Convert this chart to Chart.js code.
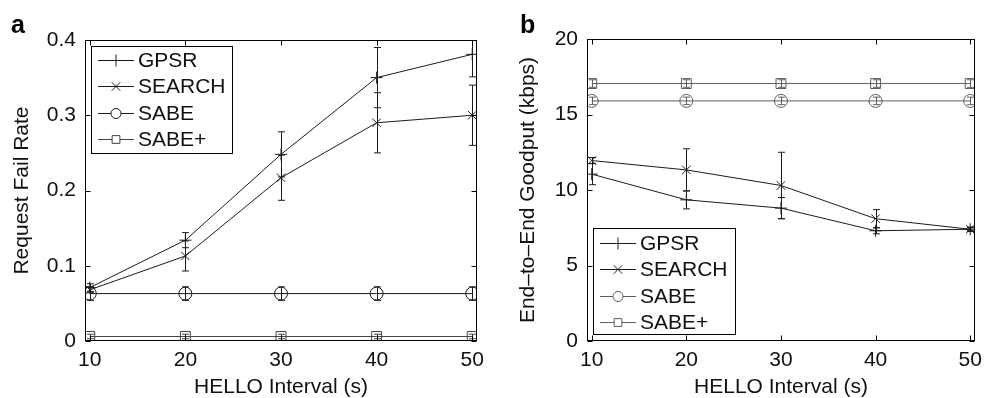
<!DOCTYPE html>
<html>
<head>
<meta charset="utf-8">
<script src="https://cdn.jsdelivr.net/npm/chart.js@4.4.1/dist/chart.umd.min.js"></script>
<style>
  body { margin: 0; background: #fff; }
  #wrap { position: relative; width: 989px; height: 398px; }
  .panel { position: absolute; top: 0; height: 398px; }
  #pa { left: 0; width: 500px; }
  #pb { left: 500px; width: 489px; }
  .tag { position: absolute; top: 12px; font: bold 25px "Liberation Sans", Arial, sans-serif; line-height: 25px; }
</style>
</head>
<body>
<div id="wrap">
  <div class="panel" id="pa"><canvas id="failChart" width="500" height="398"></canvas></div>
  <div class="panel" id="pb"><canvas id="goodputChart" width="489" height="398"></canvas></div>
  <div class="tag" style="left:11px">a</div>
  <div class="tag" style="left:520px">b</div>
</div>
<script>
const hello = [10, 20, 30, 40, 50];
const seriesNames = ['GPSR', 'SEARCH', 'SABE', 'SABE+'];

// panel a: request fail rate
const failGpsr = [0.071, 0.134, 0.248, 0.350, 0.381];
const failGpsrErr = [0.005, 0.010, 0.030, 0.040, 0.030];
const failSearch = [0.068, 0.113, 0.217, 0.290, 0.300];
const failSearchErr = [0.004, 0.020, 0.030, 0.040, 0.040];
const failSabe = [0.063, 0.063, 0.063, 0.063, 0.063];
const failSabeErr = [0.009, 0.009, 0.009, 0.009, 0.009];
const failSabePlus = [0.006, 0.006, 0.006, 0.006, 0.006];
const failSabePlusErr = [0.003, 0.003, 0.003, 0.003, 0.003];
const failTicks = [0, 0.1, 0.2, 0.3, 0.4];

// panel b: end-to-end goodput
const gpGpsr = [11.05, 9.35, 8.8, 7.3, 7.4];
const gpGpsrErr = [0.7, 0.6, 0.7, 0.2, 0.1];
const gpSearch = [11.95, 11.33, 10.3, 8.1, 7.4];
const gpSearchErr = [0.2, 1.4, 2.2, 0.6, 0.15];
const gpSabe = [15.9, 15.9, 15.9, 15.9, 15.9];
const gpSabeErr = [0.25, 0.25, 0.25, 0.25, 0.25];
const gpSabePlus = [17.05, 17.05, 17.05, 17.05, 17.05];
const gpSabePlusErr = [0.25, 0.25, 0.25, 0.25, 0.25];
const gpTicks = [0, 5, 10, 15, 20];

const FONT = '"Liberation Sans", Arial, Helvetica, sans-serif';
const DARK = '#1c1c1c';
const GRAY = '#5e5e5e';
const markers = [
  { style: 'cross', r: 6, lr: 6 },
  { style: 'crossRot', r: 6, lr: 6 },
  { style: 'circle', r: 6.5, lr: 5 },
  { style: 'rect', r: 7, lr: 5.5 }
];

function makeDataset(i, values, errs, color) {
  return {
    label: seriesNames[i],
    data: hello.map((x, j) => ({ x: x, y: values[j] })),
    err: errs,
    borderColor: color,
    borderWidth: 1,
    tension: 0,
    fill: false,
    pointStyle: markers[i].style,
    pointRadius: markers[i].r,
    pointBorderColor: color,
    pointBorderWidth: 1,
    pointBackgroundColor: 'rgba(0,0,0,0)'
  };
}

// vertical error bars with caps, drawn from the chart scales
const errorBars = {
  id: 'errorBars',
  beforeDatasetsDraw(chart) {
    const { ctx, chartArea, scales } = chart;
    ctx.save();
    ctx.beginPath();
    ctx.rect(chartArea.left, chartArea.top, chartArea.right - chartArea.left, chartArea.bottom - chartArea.top);
    ctx.clip();
    ctx.lineWidth = 1;
    chart.data.datasets.forEach(ds => {
      ctx.strokeStyle = ds.borderColor;
      ds.data.forEach((p, j) => {
        const x = Math.round(scales.x.getPixelForValue(p.x)) + 0.5;
        const y1 = scales.y.getPixelForValue(p.y + ds.err[j]);
        const y2 = scales.y.getPixelForValue(p.y - ds.err[j]);
        ctx.beginPath();
        ctx.moveTo(x, y1); ctx.lineTo(x, y2);
        ctx.moveTo(x - 3.5, y1); ctx.lineTo(x + 3.5, y1);
        ctx.moveTo(x - 3.5, y2); ctx.lineTo(x + 3.5, y2);
        ctx.stroke();
      });
    });
    ctx.restore();
  }
};

// matlab style box with inward ticks on all sides
const frame = {
  id: 'frame',
  afterDraw(chart) {
    const { ctx, chartArea: a, scales } = chart;
    const L = Math.round(a.left) + 0.5, R = Math.round(a.right) - 0.5;
    const T = Math.round(a.top) + 0.5, B = Math.round(a.bottom) - 0.5;
    ctx.save();
    ctx.strokeStyle = '#000';
    ctx.lineWidth = 1;
    ctx.strokeRect(L, T, R - L, B - T);
    ctx.beginPath();
    scales.x.ticks.forEach(t => {
      const x = Math.round(scales.x.getPixelForValue(t.value)) + 0.5;
      ctx.moveTo(x, B); ctx.lineTo(x, B - 5);
      ctx.moveTo(x, T); ctx.lineTo(x, T + 5);
    });
    scales.y.ticks.forEach(t => {
      const y = Math.round(scales.y.getPixelForValue(t.value)) + 0.5;
      ctx.moveTo(L, y); ctx.lineTo(L + 5, y);
      ctx.moveTo(R, y); ctx.lineTo(R - 5, y);
    });
    ctx.stroke();
    ctx.restore();
  }
};

// legend box inside the plot
const boxLegend = {
  id: 'boxLegend',
  afterDraw(chart, args, opts) {
    const { ctx } = chart;
    ctx.save();
    ctx.fillStyle = '#fff';
    ctx.fillRect(opts.x, opts.y, opts.w, opts.h);
    ctx.strokeStyle = '#000';
    ctx.lineWidth = 1;
    ctx.strokeRect(opts.x + 0.5, opts.y + 0.5, opts.w, opts.h);
    ctx.font = '21px ' + FONT;
    ctx.textBaseline = 'middle';
    chart.data.datasets.forEach((ds, i) => {
      const y = Math.round(opts.y + opts.row0 + i * opts.gap) + 0.5;
      const x0 = opts.x + 7, x1 = opts.x + 43;
      ctx.strokeStyle = ds.borderColor;
      ctx.beginPath();
      ctx.moveTo(x0, y); ctx.lineTo(x1, y);
      ctx.stroke();
      ctx.fillStyle = '#fff';
      Chart.helpers.drawPoint(ctx, { pointStyle: markers[i].style, radius: markers[i].lr, rotation: 0, borderWidth: 1 }, (x0 + x1) / 2, y);
      ctx.fillStyle = '#111';
      ctx.fillText(ds.label, opts.x + 47, y + 1);
    });
    ctx.restore();
  }
};

function makeChart(id, datasets, yMin, yMax, yTicks, yTitle, yWidth, padTop, padRight, yTitlePad, legend) {
  return new Chart(document.getElementById(id), {
    type: 'line',
    data: { datasets: datasets },
    options: {
      responsive: false,
      animation: false,
      layout: { padding: { top: padTop, right: padRight, left: 0, bottom: 0 } },
      scales: {
        x: {
          type: 'linear',
          min: 9.5,
          max: 50.5,
          afterBuildTicks: s => { s.ticks = hello.map(v => ({ value: v })); },
          afterFit: s => { s.height = 57; },
          grid: { display: false, drawTicks: false },
          border: { display: false },
          ticks: { color: '#111', font: { family: FONT, size: 21 }, padding: 7, maxRotation: 0 },
          title: { display: true, text: 'HELLO Interval (s)', color: '#111', font: { family: FONT, size: 21, lineHeight: 1 }, padding: { top: 0, bottom: 0 } }
        },
        y: {
          min: yMin,
          max: yMax,
          afterBuildTicks: s => { s.ticks = yTicks.map(v => ({ value: v })); },
          afterFit: s => { s.width = yWidth; },
          grid: { display: false, drawTicks: false },
          border: { display: false },
          ticks: { color: '#111', font: { family: FONT, size: 21 }, padding: 9 },
          title: { display: true, text: yTitle, color: '#111', font: { family: FONT, size: 21 }, padding: { top: yTitlePad, bottom: 0 } }
        }
      },
      plugins: {
        legend: { display: false },
        tooltip: { enabled: false },
        boxLegend: legend
      }
    },
    plugins: [errorBars, frame, boxLegend]
  });
}

makeChart('failChart', [
  makeDataset(0, failGpsr, failGpsrErr, DARK),
  makeDataset(1, failSearch, failSearchErr, DARK),
  makeDataset(2, failSabe, failSabeErr, DARK),
  makeDataset(3, failSabePlus, failSabePlusErr, '#444')
], 0, 0.4, failTicks, 'Request Fail Rate', 85, 40, 23, 10,
  { x: 91, y: 46, w: 141, h: 107, row0: 14, gap: 26.4 });

makeChart('goodputChart', [
  makeDataset(0, gpGpsr, gpGpsrErr, DARK),
  makeDataset(1, gpSearch, gpSearchErr, DARK),
  makeDataset(2, gpSabe, gpSabeErr, GRAY),
  makeDataset(3, gpSabePlus, gpSabePlusErr, GRAY)
], 0, 20, gpTicks, 'End\u2013to\u2013End Goodput (kbps)', 87, 39, 9, 16,
  { x: 93, y: 228, w: 142, h: 106, row0: 15, gap: 26.3 });
</script>
</body>
</html>
